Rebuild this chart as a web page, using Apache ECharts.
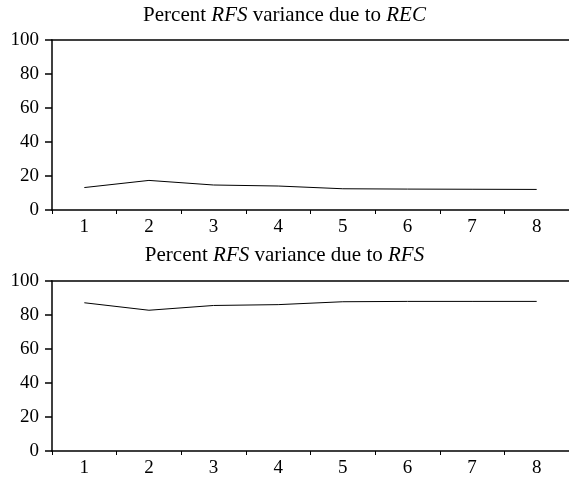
<!DOCTYPE html>
<html>
<head>
<meta charset="utf-8">
<script src="https://cdn.jsdelivr.net/npm/echarts@6/dist/echarts.min.js"></script>
<style>
  html, body { margin: 0; padding: 0; background: #fff; }
  #chart { width: 569px; height: 482px; }
</style>
</head>
<body>
<div id="chart"></div>
<script>
// horizons (x categories)
const horizons = ['1', '2', '3', '4', '5', '6', '7', '8']
// percent RFS variance due to REC
const dueToRec = [13.2, 17.4, 14.7, 14.1, 12.5, 12.3, 12.2, 12.1]
// percent RFS variance due to RFS
const dueToRfs = [87.2, 82.8, 85.6, 86.1, 87.8, 88.0, 88.0, 88.0]
const yTicks = [0, 20, 40, 60, 80, 100]

const font = 'Liberation Serif'
const ink = '#000'

const chart = echarts.init(document.getElementById('chart'))

// 标题：斜体部分用 rich text
function makeTitle(top, src) {
  return {
    text: '{n|Percent }{i|RFS}{n| variance due to }{i|' + src + '}',
    left: 'center',
    top: top,
    padding: 0,
    textStyle: {
      fontWeight: 'normal',
      rich: {
        n: { fontFamily: font, fontSize: 21, fontWeight: 'normal', color: ink },
        i: { fontFamily: font, fontSize: 21, fontWeight: 'normal', color: ink, fontStyle: 'italic' }
      }
    }
  }
}

function bottomAxis(gridIndex) {
  return {
    type: 'category',
    gridIndex: gridIndex,
    data: horizons,
    boundaryGap: true,
    axisLine: { lineStyle: { color: ink, width: 1.5 } },
    axisTick: { show: true, interval: 0, length: 4, inside: false, lineStyle: { color: ink, width: 1 } },
    axisLabel: { interval: 0, margin: 8, fontFamily: font, fontSize: 19, color: ink },
    splitLine: { show: false }
  }
}

// 顶部边线
function topAxis(gridIndex) {
  return {
    type: 'category',
    gridIndex: gridIndex,
    position: 'top',
    data: horizons,
    axisLine: { lineStyle: { color: ink, width: 1.5 } },
    axisTick: { show: false },
    axisLabel: { show: false },
    splitLine: { show: false }
  }
}

function leftAxis(gridIndex) {
  return {
    type: 'value',
    gridIndex: gridIndex,
    position: 'left',
    min: yTicks[0],
    max: yTicks[yTicks.length - 1],
    interval: 20,
    axisLine: { show: true, onZero: false, lineStyle: { color: ink, width: 1.5 } },
    axisTick: { show: true, inside: false, length: 7, lineStyle: { color: ink, width: 1.5 } },
    axisLabel: { margin: 13, fontFamily: font, fontSize: 19, color: ink },
    splitLine: { show: false }
  }
}

const option = {
  animation: false,
  backgroundColor: '#fff',
  title: [makeTitle(5, 'REC'), makeTitle(245, 'RFS')],
  grid: [
    { left: 52, right: 0, top: 40, height: 170 },
    { left: 52, right: 0, top: 281, height: 170 }
  ],
  xAxis: [bottomAxis(0), topAxis(0), bottomAxis(1), topAxis(1)],
  yAxis: [leftAxis(0), leftAxis(1)],
  series: [
    {
      type: 'line',
      xAxisIndex: 0,
      yAxisIndex: 0,
      data: dueToRec,
      showSymbol: false,
      lineStyle: { color: ink, width: 1 }
    },
    {
      type: 'line',
      xAxisIndex: 2,
      yAxisIndex: 1,
      data: dueToRfs,
      showSymbol: false,
      lineStyle: { color: ink, width: 1 }
    }
  ]
}

chart.setOption(option)
</script>
</body>
</html>
